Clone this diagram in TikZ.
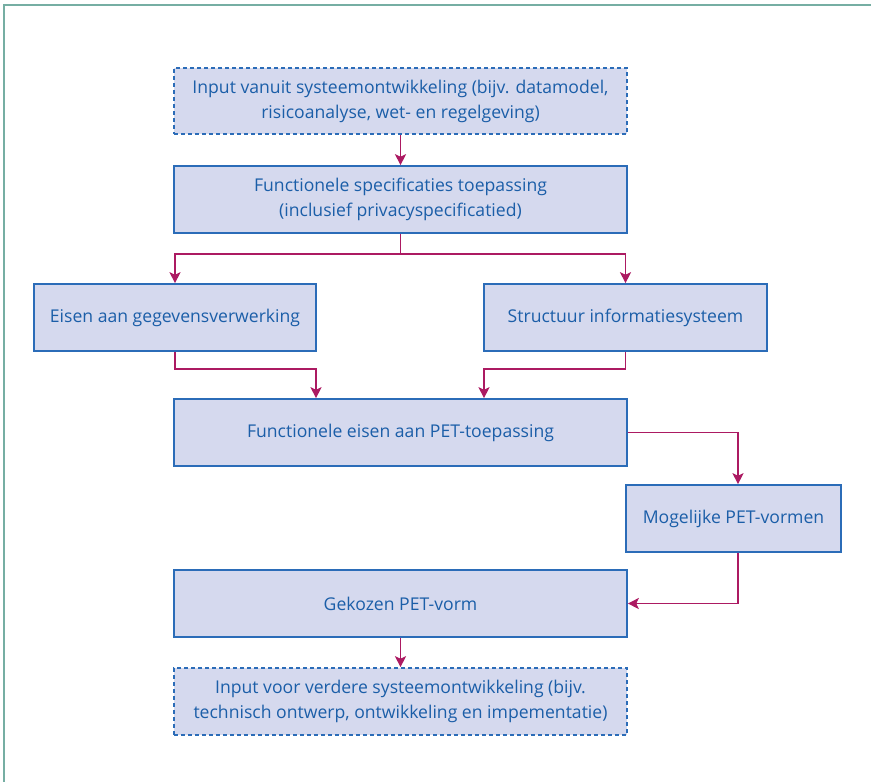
\documentclass[tikz,border=0pt]{standalone}
\usepackage{fontspec}
\setmainfont{Open Sans}
\usetikzlibrary{arrows.meta}
\definecolor{boxfill}{HTML}{D5D9EE}
\definecolor{boxline}{HTML}{2B6CB8}
\definecolor{boxtext}{HTML}{1B5EA8}
\definecolor{flow}{HTML}{AC1A62}
\definecolor{frame}{HTML}{76AEA3}
\tikzset{
  box/.style={draw=boxline, fill=boxfill, line width=1.6pt, text=boxtext,
    align=center, inner sep=0pt, minimum height=67pt,
    font=\fontsize{17.6}{25}\selectfont},
  inputbox/.style={box, dash pattern=on 4pt off 3pt},
  conn/.style={draw=flow, line width=1.4pt,
    -{Stealth[length=11pt, width=11pt, inset=2.5pt]}},
}
\begin{document}
\begin{tikzpicture}[x=1pt, y=-1pt]
  \useasboundingbox (0,0) rectangle (871,782);
  % page frame (top and left rules)
  \draw[frame, line width=2pt] (4,782) -- (4,5) -- (871,5);

  % boxes
  \node[inputbox, minimum width=453pt, minimum height=66pt] (in1) at (400.5,101)
    {Input vanuit systeemontwikkeling (bijv. datamodel,\\risicoanalyse, wet- en regelgeving)};
  \node[box, minimum width=453pt] (spec) at (400.5,199.5)
    {Functionele specificaties toepassing\\(inclusief privacyspecificatied)};
  \node[box, minimum width=282pt] (eisen) at (175,317.5)
    {Eisen aan gegevensverwerking};
  \node[box, minimum width=283pt] (struct) at (625.5,317.5)
    {Structuur informatiesysteem};
  \node[box, minimum width=453pt] (feis) at (400.5,432.5)
    {Functionele eisen aan PET-toepassing};
  \node[box, minimum width=215pt] (mog) at (733.5,518.5)
    {Mogelijke PET-vormen};
  \node[box, minimum width=453pt] (gek) at (400.5,603.5)
    {Gekozen PET-vorm};
  \node[inputbox, minimum width=453pt] (in2) at (400.5,701.5)
    {Input voor verdere systeemontwikkeling (bijv.\\technisch ontwerp, ontwikkeling en impementatie)};

  % routing points
  \coordinate (split) at (400.5,254);
  \coordinate (jl) at (316,369);
  \coordinate (jr) at (484,369);
  \coordinate (mx) at ([xshift=4.5pt]mog.north);
  \coordinate (my) at ([xshift=4.5pt]mog.south);

  % connectors
  \draw[conn] (in1.south) -- (spec.north);
  \draw[conn] (spec.south) -- (split) -| (eisen.north);
  \draw[conn] (split) -| (struct.north);
  \draw[conn] (eisen.south) |- (jl) -- (jl |- feis.north);
  \draw[conn] (struct.south) |- (jr) -- (jr |- feis.north);
  \draw[conn] (feis.east) -| (mx);
  \draw[conn] (my) |- (gek.east);
  \draw[conn] (gek.south) -- (in2.north);
\end{tikzpicture}
\end{document}
